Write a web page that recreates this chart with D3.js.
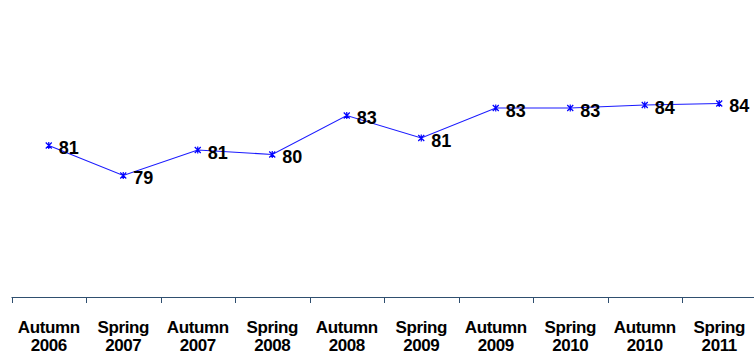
<!DOCTYPE html>
<html>
<head>
<meta charset="utf-8">
<script src="https://cdn.jsdelivr.net/npm/d3@7/dist/d3.min.js"></script>
<style>
  html, body { margin: 0; padding: 0; background: #ffffff; }
  svg { display: block; }
</style>
</head>
<body>
<svg id="chart" width="754" height="359"></svg>
<script>
// Survey waves and scores
const terms = ["Autumn", "Spring", "Autumn", "Spring", "Autumn", "Spring", "Autumn", "Spring", "Autumn", "Spring"];
const years = ["2006", "2007", "2007", "2008", "2008", "2009", "2009", "2010", "2010", "2011"];
const scores = [80.9, 78.9, 80.6, 80.3, 82.9, 81.4, 83.4, 83.4, 83.6, 83.7];

const categories = terms.map((t, i) => t + " " + years[i]);
const data = categories.map((c, i) => ({ cat: c, term: terms[i], year: years[i], value: scores[i] }));

const svg = d3.select("#chart");
const axisY = 297;

const x = d3.scaleBand()
  .domain(categories)
  .range([11.5, 756.5])
  .paddingInner(0)
  .paddingOuter(0);

const y = d3.scaleLinear()
  .domain([70, 90])
  .range([309, 9]);

const cx = d => x(d.cat) + x.bandwidth() / 2;

// Category axis: baseline with ticks at band boundaries
const axisColor = "#2f4f6f";
const edges = categories.map(c => x(c)).concat([x.range()[1]]);
const axis = svg.append("g").attr("class", "x-axis");
axis.append("line")
  .attr("x1", x.range()[0]).attr("x2", x.range()[1])
  .attr("y1", axisY + 0.5).attr("y2", axisY + 0.5)
  .attr("stroke", axisColor).attr("stroke-width", 1);
axis.selectAll("line.tick")
  .data(edges)
  .join("line")
  .attr("class", "tick")
  .attr("x1", d => Math.round(d) + 0.5).attr("x2", d => Math.round(d) + 0.5)
  .attr("y1", axisY).attr("y2", axisY + 6)
  .attr("stroke", axisColor).attr("stroke-width", 1);

const labels = axis.selectAll("text")
  .data(data)
  .join("text")
  .attr("x", cx)
  .attr("text-anchor", "middle")
  .attr("font-family", "Arial, 'Liberation Sans', sans-serif")
  .attr("font-weight", "bold")
  .attr("font-size", "17px")
  .attr("letter-spacing", "-0.4px")
  .attr("fill", "#000");
labels.append("tspan").attr("x", cx).attr("y", 333).text(d => d.term);
labels.append("tspan").attr("x", cx).attr("y", 351).text(d => d.year);

// Score line
const line = d3.line().x(cx).y(d => y(d.value));
svg.append("path")
  .datum(data)
  .attr("d", line)
  .attr("fill", "none")
  .attr("stroke", "#1a1aff")
  .attr("stroke-width", 1.1);

// Asterisk markers
svg.append("g")
  .selectAll("path")
  .data(data)
  .join("path")
  .attr("transform", d => `translate(${cx(d)},${y(d.value)})`)
  .attr("d", "M-3,-3L3,3M-3,3L3,-3M0,-3.5L0,3.5")
  .attr("stroke", "#0000ff")
  .attr("stroke-width", 1.2)
  .attr("fill", "none");

// Value labels
svg.append("g")
  .selectAll("text")
  .data(data)
  .join("text")
  .attr("x", d => cx(d) + 10)
  .attr("y", d => y(d.value) + 8.5)
  .attr("font-family", "Arial, 'Liberation Sans', sans-serif")
  .attr("font-weight", "bold")
  .attr("font-size", "18px")
  .attr("fill", "#000")
  .text(d => d3.format(".0f")(d.value));
</script>
</body>
</html>
